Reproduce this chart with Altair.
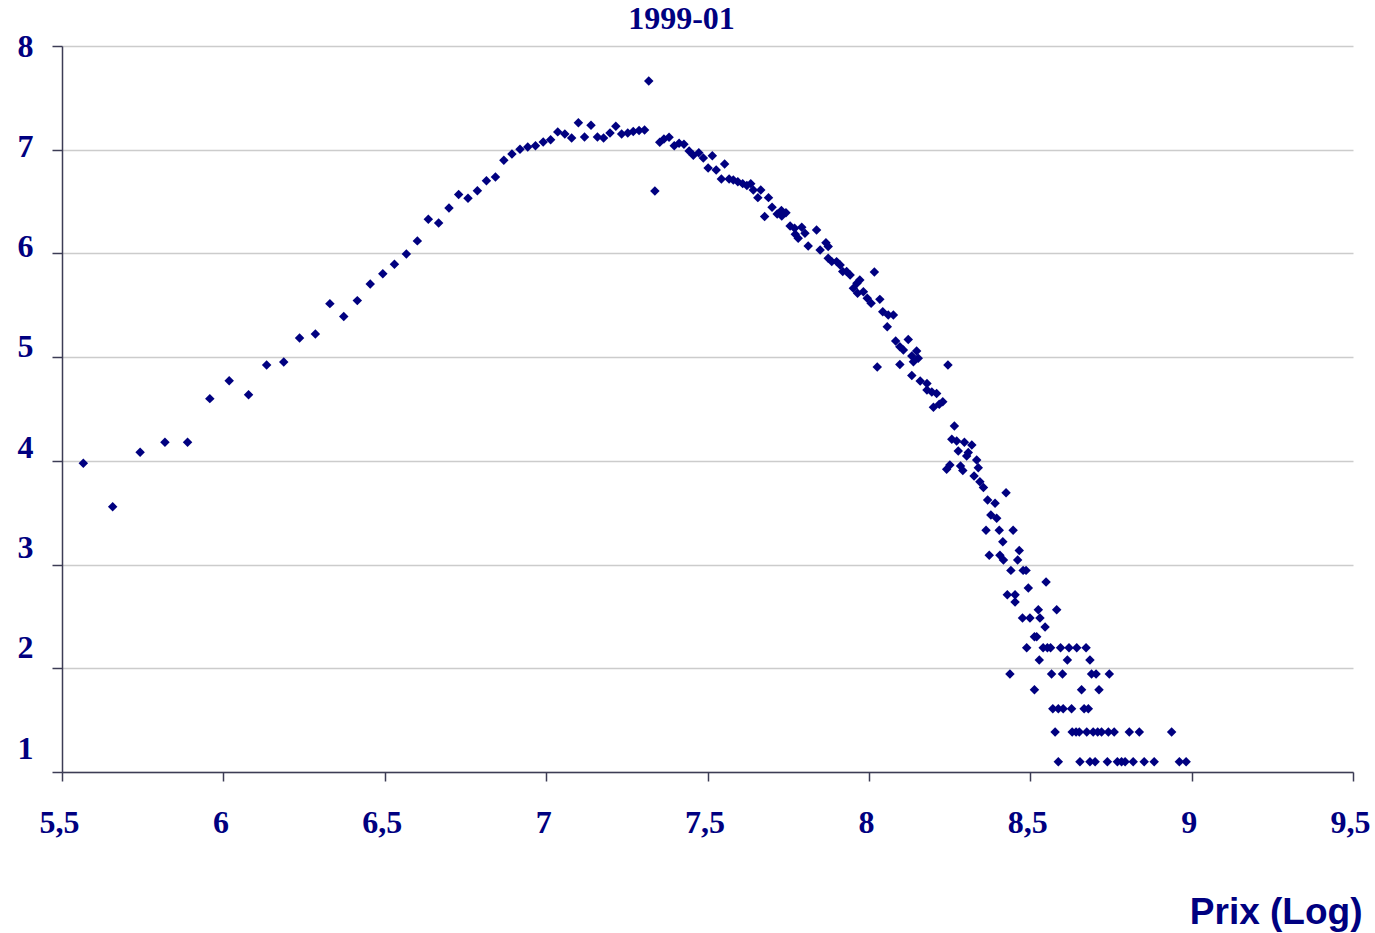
import altair as alt
import pandas as pd

# log price (x) and log count (y)
prix_log = [
    5.566, 5.657, 5.742, 5.819, 5.889, 5.958, 6.018, 6.078, 6.134, 6.187,
    6.236, 6.285, 6.330, 6.373, 6.415, 6.455, 6.494, 6.530, 6.567, 6.601,
    6.635, 6.667, 6.699, 6.729, 6.758, 6.787, 6.815, 6.843, 6.869, 6.894,
    6.919, 6.943, 6.967, 6.991, 7.014, 7.036, 7.058, 7.079, 7.100, 7.119,
    7.139, 7.159, 7.178, 7.198, 7.216, 7.234, 7.253, 7.270, 7.288, 7.305,
    7.318, 7.337, 7.352, 7.365, 7.381, 7.397, 7.412, 7.427, 7.443, 7.456,
    7.473, 7.487, 7.502, 7.515, 7.527, 7.543, 7.553, 7.567, 7.580, 7.594,
    7.609, 7.622, 7.634, 7.642, 7.656, 7.665, 7.677, 7.689, 7.700, 7.716,
    7.729, 7.730, 7.743, 7.756, 7.770, 7.772, 7.781, 7.792, 7.802, 7.812,
    7.838, 7.849, 7.867, 7.874, 7.874, 7.885, 7.900, 7.911, 7.919, 7.931,
    7.942, 7.952, 7.963, 7.965, 7.972, 7.983, 7.995, 8.007, 8.017, 8.034,
    8.043, 8.057, 8.060, 8.076, 8.083, 8.096, 8.096, 8.107, 8.122, 8.133,
    8.133, 8.138, 8.148, 8.153, 8.159, 8.026, 8.245, 8.180, 8.180, 8.195,
    8.210, 8.200, 8.218, 8.229, 8.265, 8.257, 8.272, 8.296, 8.277, 8.319,
    8.308, 8.303, 8.334, 8.241, 8.251, 8.284, 8.291, 8.339, 8.326, 8.344,
    8.355, 8.425, 8.368, 8.391, 8.378, 8.396, 8.363, 8.404, 8.447, 8.415,
    8.466, 8.373, 8.406, 8.417, 8.461, 8.440, 8.478, 8.487, 8.549, 8.494,
    8.429, 8.453, 8.453, 8.525, 8.582, 8.476, 8.499, 8.530, 8.546, 8.513,
    8.520,
    # count 9
    8.489, 8.540, 8.553, 8.563, 8.594, 8.620, 8.644, 8.673,
    # count 8
    8.528, 8.615, 8.685,
    # count 7
    8.437, 8.566, 8.600, 8.690, 8.704, 8.745,
    # count 6
    8.513, 8.659, 8.713,
    # count 5
    8.570, 8.587, 8.602, 8.628, 8.667, 8.680,
    # count 4
    8.577, 8.630, 8.642, 8.652, 8.675, 8.695, 8.709, 8.721, 8.742, 8.760,
    8.807, 8.838, 8.938,
    # count 3
    8.587, 8.654, 8.685, 8.701, 8.739, 8.770, 8.783, 8.794, 8.819, 8.853,
    8.884, 8.962, 8.983,
]

nombre_log = [
    3.977, 3.558, 4.083, 4.179, 4.179, 4.600, 4.773, 4.638, 4.925, 4.954,
    5.185, 5.224, 5.516, 5.391, 5.545, 5.706, 5.805, 5.896, 5.995, 6.121,
    6.330, 6.294, 6.439, 6.568, 6.531, 6.605, 6.701, 6.737, 6.898, 6.959,
    7.004, 7.027, 7.039, 7.075, 7.097, 7.172, 7.152, 7.114, 7.261, 7.123,
    7.236, 7.123, 7.114, 7.162, 7.226, 7.152, 7.162, 7.175, 7.185, 7.191,
    7.663, 6.603, 7.072, 7.104, 7.120, 7.039, 7.062, 7.052, 6.988, 6.946,
    6.971, 6.920, 6.823, 6.942, 6.805, 6.718, 6.863, 6.718, 6.709, 6.692,
    6.673, 6.654, 6.673, 6.612, 6.538, 6.612, 6.355, 6.538, 6.445, 6.381,
    6.413, 6.360, 6.393, 6.265, 6.243, 6.185, 6.146, 6.252, 6.194, 6.072,
    6.227, 6.034, 6.104, 6.066, 5.953, 5.921, 5.921, 5.889, 5.825, 5.825,
    5.793, 5.664, 5.712, 5.615, 5.744, 5.631, 5.567, 5.519, 5.822, 5.557,
    5.437, 5.294, 5.407, 5.407, 5.156, 5.101, 4.930, 5.069, 5.171, 5.011,
    4.824, 4.955, 5.060, 4.989, 4.770, 4.905, 4.925, 4.747, 4.684, 4.665,
    4.650, 4.517, 4.545, 4.571, 4.337, 4.208, 4.192, 4.180, 4.096, 4.153,
    4.080, 4.047, 4.009, 3.919, 3.960, 3.951, 3.906, 3.934, 3.854, 3.798,
    3.744, 3.693, 3.623, 3.591, 3.478, 3.446, 3.332, 3.332, 3.332, 3.219,
    3.135, 3.091, 3.091, 3.045, 3.045, 2.944, 2.944, 2.944, 2.833, 2.773,
    2.708, 2.708, 2.639, 2.565, 2.565, 2.485, 2.485, 2.485, 2.398, 2.303,
    2.303,
    2.197, 2.197, 2.197, 2.197, 2.197, 2.197, 2.197, 2.197,
    2.079, 2.079, 2.079,
    1.946, 1.946, 1.946, 1.946, 1.946, 1.946,
    1.792, 1.792, 1.792,
    1.609, 1.609, 1.609, 1.609, 1.609, 1.609,
    1.386, 1.386, 1.386, 1.386, 1.386, 1.386, 1.386, 1.386, 1.386, 1.386,
    1.386, 1.386, 1.386,
    1.099, 1.099, 1.099, 1.099, 1.099, 1.099, 1.099, 1.099, 1.099, 1.099,
    1.099, 1.099, 1.099,
]

x_ticks = [5.5, 6, 6.5, 7, 7.5, 8, 8.5, 9, 9.5]
y_ticks = [1, 2, 3, 4, 5, 6, 7, 8]

df = pd.DataFrame({"prix": prix_log, "nombre": nombre_log})

NAVY = "#000080"
AXIS = "#3c3c55"

x_enc = alt.X(
    "prix:Q",
    scale=alt.Scale(domain=[5.5, 9.5], nice=False, zero=False),
    axis=alt.Axis(
        values=x_ticks,
        grid=False,
        domainColor=AXIS, domainWidth=1.5,
        tickColor=AXIS, tickWidth=1.5, tickSize=9,
        labelExpr="replace(toString(datum.value), '.', ',')",
        labelFont="Liberation Serif", labelFontSize=32, labelFontWeight="bold",
        labelColor=NAVY, labelBaseline="alphabetic", labelPadding=51,
        labelOffset=-3, labelFlush=False,
        title="Prix (Log)",
        titleFont="Liberation Sans", titleFontSize=37, titleFontWeight="bold",
        titleColor=NAVY, titleAlign="right", titleBaseline="alphabetic",
        titleX=1300, titleY=151,
    ),
)

points = alt.Chart(df).mark_point(
    shape="diamond", filled=True, size=90, color=NAVY, opacity=1
).encode(
    x=x_enc,
    y=alt.Y(
        "nombre:Q",
        scale=alt.Scale(domain=[1, 8], nice=False, zero=False),
        axis=alt.Axis(
            values=y_ticks,
            grid=True, gridColor="#cccccc", gridWidth=1.5,
            domainColor=AXIS, domainWidth=1.5,
            tickColor=AXIS, tickWidth=1.5, tickSize=10,
            labels=False, title=None,
        ),
    ),
)

labels_layer = alt.Chart(df).mark_point(opacity=0).encode(
    x=alt.X("prix:Q"),
    y=alt.Y(
        "nombre:Q",
        scale=alt.Scale(domain=[0.761, 8.0], nice=False, zero=False),
        axis=alt.Axis(
            orient="left",
            values=y_ticks,
            grid=False, domain=False, ticks=False,
            labelFont="Liberation Serif", labelFontSize=32, labelFontWeight="bold",
            labelColor=NAVY, labelPadding=29, labelFlush=False,
            title=None,
        ),
    ),
)

chart = alt.layer(points, labels_layer).resolve_scale(y="independent").properties(
    width=1291,
    height=726,
    autosize=alt.AutoSizeParams(type="none"),
    padding={"left": 62, "top": 46, "right": 22, "bottom": 161},
    title=alt.TitleParams(
        text="1999-01", font="Liberation Serif", fontSize=32, fontWeight="bold",
        color=NAVY, anchor="middle", frame="group", dx=-26, dy=31, offset=0,
        baseline="alphabetic",
    ),
    background="white",
).configure_view(stroke=None)

chart.save("out.html", embed_options={"renderer": "svg", "actions": False})
